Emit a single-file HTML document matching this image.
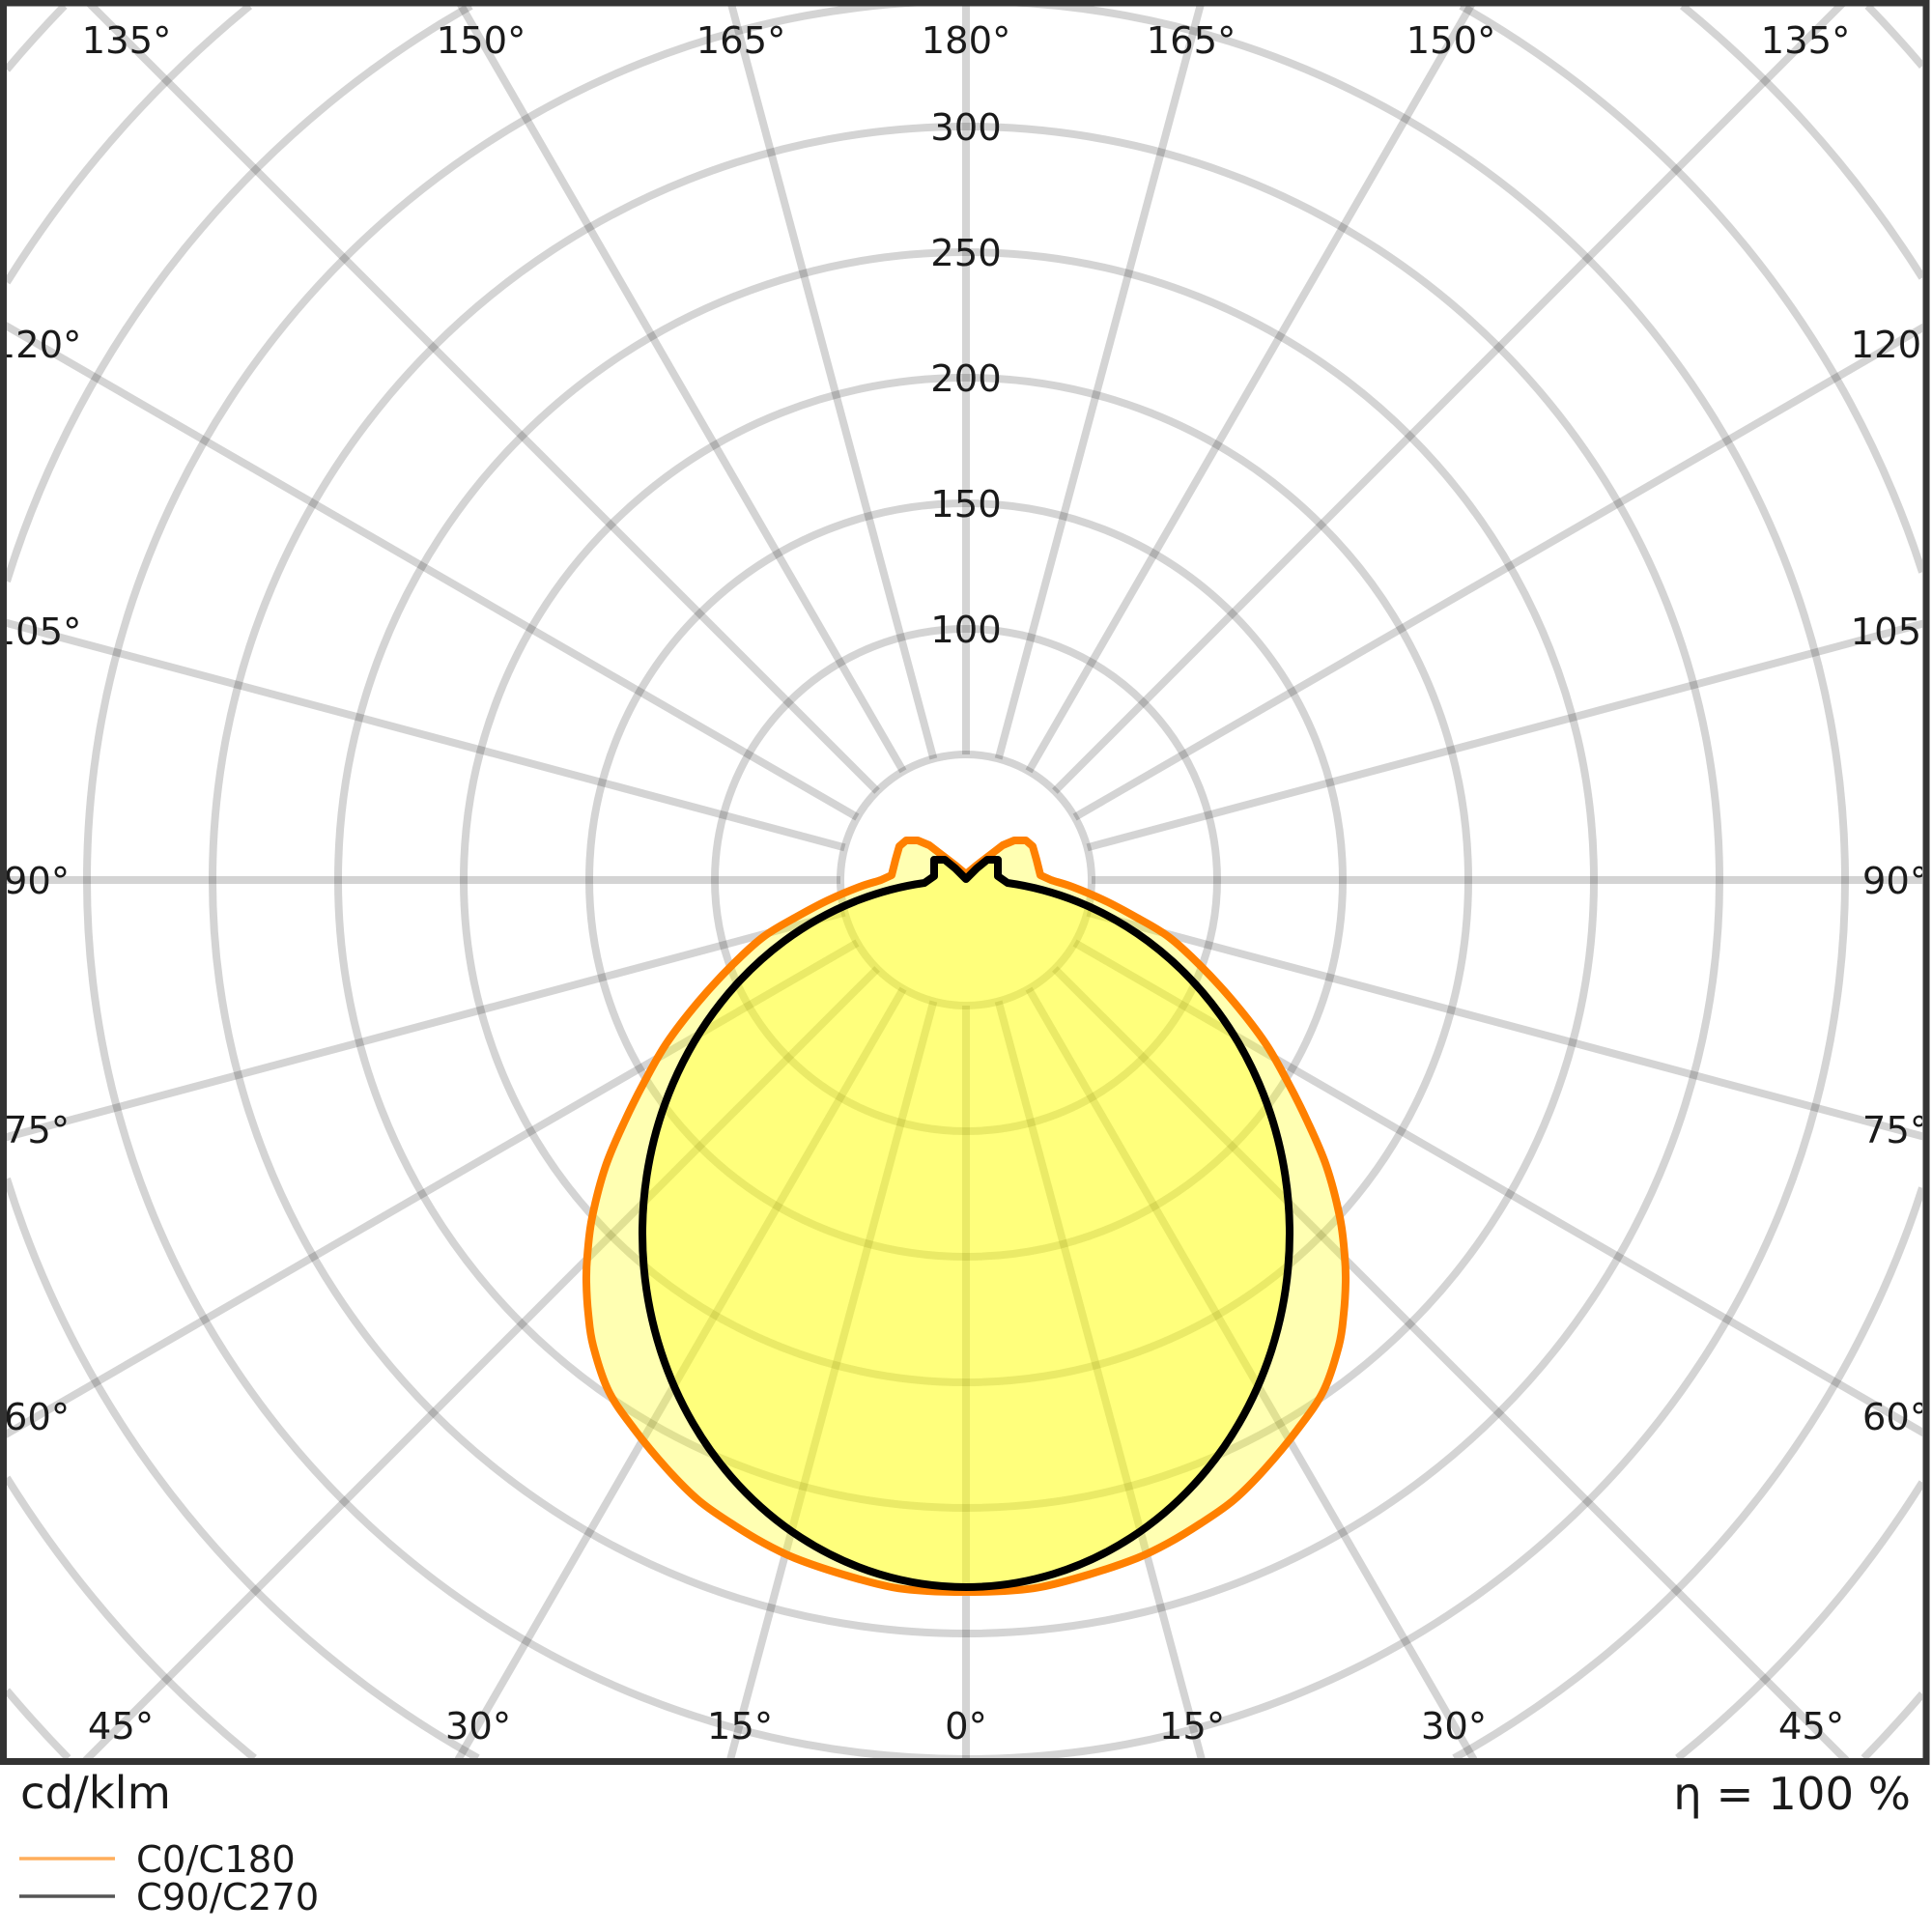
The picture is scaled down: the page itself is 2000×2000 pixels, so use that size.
<!DOCTYPE html>
<html>
<head>
<meta charset="utf-8">
<style>
html,body{margin:0;padding:0;background:#fff;width:2000px;height:2000px;overflow:hidden;}
svg{display:block;}
text{font-family:"DejaVu Sans","Liberation Sans",sans-serif;fill:#1a1a1a;}
</style>
</head>
<body>
<svg width="2000" height="2000" viewBox="0 0 2000 2000" xmlns="http://www.w3.org/2000/svg">
<rect x="0" y="0" width="2000" height="2000" fill="#fff"/>
<defs>
<clipPath id="frame"><rect x="7" y="6" width="1983" height="1814"/></clipPath>
</defs>
<g clip-path="url(#frame)">
  <g stroke="#000" stroke-opacity="0.17" stroke-width="8" fill="none">
    <g transform="translate(1000,911)">
      <circle r="130"/><circle r="260"/><circle r="390"/><circle r="520"/><circle r="650"/>
      <circle r="780"/><circle r="910"/>
      <line x1="0" y1="130" x2="0" y2="915" transform="rotate(0)"/>
      <line x1="0" y1="130" x2="0" y2="945" transform="rotate(15)"/>
      <line x1="0" y1="130" x2="0" y2="1055" transform="rotate(30)"/>
      <line x1="0" y1="130" x2="0" y2="1290" transform="rotate(45)"/>
      <line x1="0" y1="130" x2="0" y2="1150" transform="rotate(60)"/>
      <line x1="0" y1="130" x2="0" y2="1030" transform="rotate(75)"/>
      <line x1="0" y1="130" x2="0" y2="995" transform="rotate(90)"/>
      <line x1="0" y1="130" x2="0" y2="1030" transform="rotate(105)"/>
      <line x1="0" y1="130" x2="0" y2="1150" transform="rotate(120)"/>
      <line x1="0" y1="130" x2="0" y2="1285" transform="rotate(135)"/>
      <line x1="0" y1="130" x2="0" y2="1050" transform="rotate(150)"/>
      <line x1="0" y1="130" x2="0" y2="940" transform="rotate(165)"/>
      <line x1="0" y1="130" x2="0" y2="910" transform="rotate(180)"/>
      <line x1="0" y1="130" x2="0" y2="940" transform="rotate(195)"/>
      <line x1="0" y1="130" x2="0" y2="1050" transform="rotate(210)"/>
      <line x1="0" y1="130" x2="0" y2="1285" transform="rotate(225)"/>
      <line x1="0" y1="130" x2="0" y2="1150" transform="rotate(240)"/>
      <line x1="0" y1="130" x2="0" y2="1030" transform="rotate(255)"/>
      <line x1="0" y1="130" x2="0" y2="995" transform="rotate(270)"/>
      <line x1="0" y1="130" x2="0" y2="1030" transform="rotate(285)"/>
      <line x1="0" y1="130" x2="0" y2="1150" transform="rotate(300)"/>
      <line x1="0" y1="130" x2="0" y2="1290" transform="rotate(315)"/>
      <line x1="0" y1="130" x2="0" y2="1055" transform="rotate(330)"/>
      <line x1="0" y1="130" x2="0" y2="945" transform="rotate(345)"/>
    </g>
    <!-- r=1040 corner arcs -->
    <path d="M494.7,1820 A1040,1040 0 0,1 7,1220.1"/>
    <path d="M1990,1229.6 A1040,1040 0 0,1 1505.3,1820"/>
    <path d="M7,601.9 A1040,1040 0 0,1 487.6,6"/>
    <path d="M1512.4,6 A1040,1040 0 0,1 1990,592.4"/>
    <!-- r=1170 corner arcs -->
    <path d="M263.4,1820 A1170,1170 0 0,1 7,1529.7"/>
    <path d="M1990,1534.5 A1170,1170 0 0,1 1736.6,1820"/>
    <path d="M7,292.3 A1170,1170 0 0,1 258.5,6"/>
    <path d="M1741.5,6 A1170,1170 0 0,1 1990,287.5"/>
    <!-- r=1300 corner arcs -->
    <path d="M70.6,1820 A1300,1300 0 0,1 7,1750"/>
    <path d="M1990,1753.6 A1300,1300 0 0,1 1929.4,1820"/>
    <path d="M7,72 A1300,1300 0 0,1 66.7,6"/>
    <path d="M1933.3,6 A1300,1300 0 0,1 1990,68.4"/>
  </g>

  <!-- C0/C180 fill -->
  <path fill="#ffff00" fill-opacity="0.3" stroke="none" d="M1000,905 L988,895 975,885 962,875 950,870 938,870 931,876 927,890 923,906 912,911 C906.5,913 899.2,914.5 890,918 C880.8,921.5 868.2,926.7 857,932 C845.8,937.3 834.2,943.7 823,950 C811.8,956.3 801,961.7 790,970 C779,978.3 768.2,988.8 757,1000 C745.8,1011.2 734.2,1023.7 723,1037 C711.8,1050.3 699.3,1066.2 690,1080 C680.7,1093.8 674.2,1106.7 667,1120 C659.8,1133.3 653.7,1145.5 647,1160 C640.3,1174.5 632.7,1190.3 627,1207 C621.3,1223.7 616.2,1244.5 613,1260 C609.8,1275.5 609,1288.8 608,1300 C607,1311.2 606.8,1317 607,1327 C607.2,1337 607.8,1349 609,1360 C610.2,1371 610.5,1379.7 614,1393 C617.5,1406.3 622.8,1425.5 630,1440 C637.2,1454.5 647,1466.7 657,1480 C667,1493.3 679,1507.8 690,1520 C701,1532.2 711.8,1543.5 723,1553 C734.2,1562.5 745.8,1569.7 757,1577 C768.2,1584.3 779,1591 790,1597 C801,1603 809.2,1607.5 823,1613 C836.8,1618.5 856.3,1625 873,1630 C889.7,1635 908.5,1640.2 923,1643 C937.5,1645.8 947.2,1646.2 960,1647 C972.8,1647.8 986.7,1648 1000,1648 C1013.3,1648 1027.2,1647.8 1040,1647 C1052.8,1646.2 1062.5,1645.8 1077,1643 C1091.5,1640.2 1110.3,1635 1127,1630 C1143.7,1625 1163.2,1618.5 1177,1613 C1190.8,1607.5 1199,1603 1210,1597 C1221,1591 1231.8,1584.3 1243,1577 C1254.2,1569.7 1265.8,1562.5 1277,1553 C1288.2,1543.5 1299,1532.2 1310,1520 C1321,1507.8 1333,1493.3 1343,1480 C1353,1466.7 1362.8,1454.5 1370,1440 C1377.2,1425.5 1382.5,1406.3 1386,1393 C1389.5,1379.7 1389.8,1371 1391,1360 C1392.2,1349 1392.8,1337 1393,1327 C1393.2,1317 1393,1311.2 1392,1300 C1391,1288.8 1390.2,1275.5 1387,1260 C1383.8,1244.5 1378.7,1223.7 1373,1207 C1367.3,1190.3 1359.7,1174.5 1353,1160 C1346.3,1145.5 1340.2,1133.3 1333,1120 C1325.8,1106.7 1319.3,1093.8 1310,1080 C1300.7,1066.2 1288.2,1050.3 1277,1037 C1265.8,1023.7 1254.2,1011.2 1243,1000 C1231.8,988.8 1221,978.3 1210,970 C1199,961.7 1188.2,956.3 1177,950 C1165.8,943.7 1154.2,937.3 1143,932 C1131.8,926.7 1119.2,921.5 1110,918 C1100.8,914.5 1093.5,913 1088,911 L1077,906 1073,890 1069,876 1062,870 1050,870 1038,875 1025,885 1012,895 Z"/>
  <!-- C90/C270 fill -->
  <path fill="#ffff00" fill-opacity="0.3" stroke="none" d="M1000,910 L989,899 978,890 967,890 967,907 957,914 A335,366 0 1,0 1043,914 L1033,907 1033,890 1022,890 1011,899 Z"/>
  <!-- strokes -->
  <path fill="none" stroke="#ff8000" stroke-width="8" stroke-linejoin="round" d="M1000,905 L988,895 975,885 962,875 950,870 938,870 931,876 927,890 923,906 912,911 C906.5,913 899.2,914.5 890,918 C880.8,921.5 868.2,926.7 857,932 C845.8,937.3 834.2,943.7 823,950 C811.8,956.3 801,961.7 790,970 C779,978.3 768.2,988.8 757,1000 C745.8,1011.2 734.2,1023.7 723,1037 C711.8,1050.3 699.3,1066.2 690,1080 C680.7,1093.8 674.2,1106.7 667,1120 C659.8,1133.3 653.7,1145.5 647,1160 C640.3,1174.5 632.7,1190.3 627,1207 C621.3,1223.7 616.2,1244.5 613,1260 C609.8,1275.5 609,1288.8 608,1300 C607,1311.2 606.8,1317 607,1327 C607.2,1337 607.8,1349 609,1360 C610.2,1371 610.5,1379.7 614,1393 C617.5,1406.3 622.8,1425.5 630,1440 C637.2,1454.5 647,1466.7 657,1480 C667,1493.3 679,1507.8 690,1520 C701,1532.2 711.8,1543.5 723,1553 C734.2,1562.5 745.8,1569.7 757,1577 C768.2,1584.3 779,1591 790,1597 C801,1603 809.2,1607.5 823,1613 C836.8,1618.5 856.3,1625 873,1630 C889.7,1635 908.5,1640.2 923,1643 C937.5,1645.8 947.2,1646.2 960,1647 C972.8,1647.8 986.7,1648 1000,1648 C1013.3,1648 1027.2,1647.8 1040,1647 C1052.8,1646.2 1062.5,1645.8 1077,1643 C1091.5,1640.2 1110.3,1635 1127,1630 C1143.7,1625 1163.2,1618.5 1177,1613 C1190.8,1607.5 1199,1603 1210,1597 C1221,1591 1231.8,1584.3 1243,1577 C1254.2,1569.7 1265.8,1562.5 1277,1553 C1288.2,1543.5 1299,1532.2 1310,1520 C1321,1507.8 1333,1493.3 1343,1480 C1353,1466.7 1362.8,1454.5 1370,1440 C1377.2,1425.5 1382.5,1406.3 1386,1393 C1389.5,1379.7 1389.8,1371 1391,1360 C1392.2,1349 1392.8,1337 1393,1327 C1393.2,1317 1393,1311.2 1392,1300 C1391,1288.8 1390.2,1275.5 1387,1260 C1383.8,1244.5 1378.7,1223.7 1373,1207 C1367.3,1190.3 1359.7,1174.5 1353,1160 C1346.3,1145.5 1340.2,1133.3 1333,1120 C1325.8,1106.7 1319.3,1093.8 1310,1080 C1300.7,1066.2 1288.2,1050.3 1277,1037 C1265.8,1023.7 1254.2,1011.2 1243,1000 C1231.8,988.8 1221,978.3 1210,970 C1199,961.7 1188.2,956.3 1177,950 C1165.8,943.7 1154.2,937.3 1143,932 C1131.8,926.7 1119.2,921.5 1110,918 C1100.8,914.5 1093.5,913 1088,911 L1077,906 1073,890 1069,876 1062,870 1050,870 1038,875 1025,885 1012,895 Z"/>
  <path fill="none" stroke="#000" stroke-width="8" stroke-linejoin="round" d="M1000,910 L989,899 978,890 967,890 967,907 957,914 A335,366 0 1,0 1043,914 L1033,907 1033,890 1022,890 1011,899 Z"/>

  <!-- radial value labels -->
  <g font-size="38.5" text-anchor="middle">
    <text x="1000" y="665">100</text>
    <text x="1000" y="535">150</text>
    <text x="1000" y="405">200</text>
    <text x="1000" y="275">250</text>
    <text x="1000" y="145">300</text>
  </g>
  <!-- angle labels -->
  <g font-size="38.5" text-anchor="middle">
    <text x="131" y="55">135°</text>
    <text x="498" y="55">150°</text>
    <text x="767" y="55">165°</text>
    <text x="1000" y="55">180°</text>
    <text x="1233" y="55">165°</text>
    <text x="1502" y="55">150°</text>
    <text x="1869" y="55">135°</text>

    <text x="38" y="370">120°</text>
    <text x="38" y="667">105°</text>
    <text x="38" y="925">90°</text>
    <text x="38" y="1183">75°</text>
    <text x="38" y="1480">60°</text>

    <text x="1962" y="370">120°</text>
    <text x="1962" y="667">105°</text>
    <text x="1962" y="925">90°</text>
    <text x="1962" y="1183">75°</text>
    <text x="1962" y="1480">60°</text>

    <text x="125" y="1800">45°</text>
    <text x="495" y="1800">30°</text>
    <text x="766" y="1800">15°</text>
    <text x="1000" y="1800">0°</text>
    <text x="1234" y="1800">15°</text>
    <text x="1505" y="1800">30°</text>
    <text x="1875" y="1800">45°</text>
  </g>
</g>

<!-- frame -->
<rect x="3.5" y="3" width="1990.5" height="1820.5" fill="none" stroke="#333" stroke-width="7"/>

<!-- bottom texts -->
<text x="21" y="1872" font-size="46.5">cd/klm</text>
<text x="1978" y="1873" font-size="46.5" text-anchor="end">η = 100 %</text>

<!-- legend -->
<line x1="20" y1="1924" x2="119" y2="1924" stroke="#ffae5c" stroke-width="3.5"/>
<text x="141" y="1938" font-size="38.5">C0/C180</text>
<line x1="20" y1="1963" x2="119" y2="1963" stroke="#555" stroke-width="3.5"/>
<text x="141" y="1977" font-size="38.5">C90/C270</text>
</svg>
</body>
</html>
